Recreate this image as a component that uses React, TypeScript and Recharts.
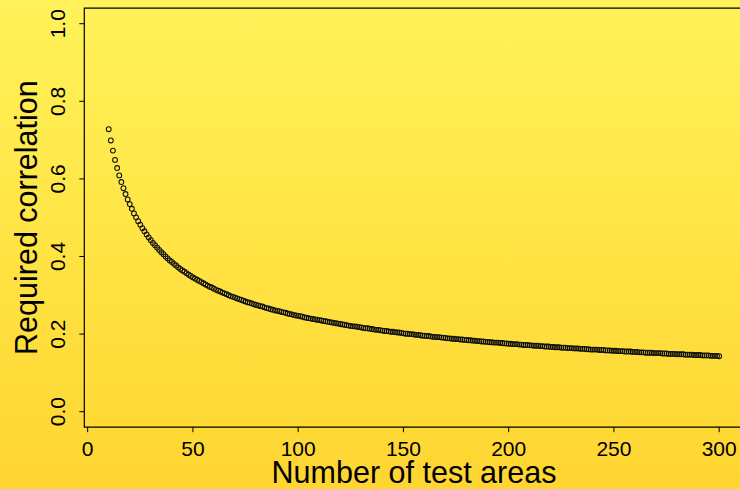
import { ScatterChart, Scatter, XAxis, YAxis, ReferenceArea } from 'recharts';

// sample sizes run from firstN upward in steps of one
const firstN = 10;

// required correlation, one value per sample size (10..300)
const requiredR = [
  0.728, 0.699, 0.673, 0.649, 0.628, 0.609, 0.592, 0.576, 0.561, 0.547, 0.535,
  0.523, 0.511, 0.501, 0.491, 0.482, 0.473, 0.465, 0.457, 0.449, 0.442,
  0.435, 0.429, 0.423, 0.417, 0.411, 0.406, 0.400, 0.395, 0.390, 0.386,
  0.381, 0.377, 0.372, 0.368, 0.364, 0.361, 0.357, 0.353, 0.350, 0.346,
  0.343, 0.340, 0.337, 0.334, 0.331, 0.328, 0.325, 0.322, 0.320, 0.317,
  0.314, 0.312, 0.310, 0.307, 0.305, 0.303, 0.300, 0.298, 0.296, 0.294,
  0.292, 0.290, 0.288, 0.286, 0.284, 0.282, 0.281, 0.279, 0.277, 0.275,
  0.274, 0.272, 0.271, 0.269, 0.267, 0.266, 0.264, 0.263, 0.261, 0.260,
  0.259, 0.257, 0.256, 0.255, 0.253, 0.252, 0.251, 0.249, 0.248, 0.247,
  0.246, 0.245, 0.243, 0.242, 0.241, 0.240, 0.239, 0.238, 0.237, 0.236,
  0.235, 0.234, 0.233, 0.232, 0.231, 0.230, 0.229, 0.228, 0.227, 0.226,
  0.225, 0.224, 0.223, 0.222, 0.221, 0.220, 0.220, 0.219, 0.218, 0.217,
  0.216, 0.215, 0.215, 0.214, 0.213, 0.212, 0.211, 0.211, 0.210, 0.209,
  0.208, 0.208, 0.207, 0.206, 0.206, 0.205, 0.204, 0.204, 0.203, 0.202,
  0.201, 0.201, 0.200, 0.200, 0.199, 0.198, 0.198, 0.197, 0.196, 0.196,
  0.195, 0.195, 0.194, 0.193, 0.193, 0.192, 0.192, 0.191, 0.191, 0.190,
  0.189, 0.189, 0.188, 0.188, 0.187, 0.187, 0.186, 0.186, 0.185, 0.185,
  0.184, 0.184, 0.183, 0.183, 0.182, 0.182, 0.181, 0.181, 0.180, 0.180,
  0.179, 0.179, 0.178, 0.178, 0.178, 0.177, 0.177, 0.176, 0.176, 0.175,
  0.175, 0.174, 0.174, 0.174, 0.173, 0.173, 0.172, 0.172, 0.172, 0.171,
  0.171, 0.170, 0.170, 0.170, 0.169, 0.169, 0.168, 0.168, 0.168, 0.167,
  0.167, 0.166, 0.166, 0.166, 0.165, 0.165, 0.165, 0.164, 0.164, 0.164,
  0.163, 0.163, 0.163, 0.162, 0.162, 0.162, 0.161, 0.161, 0.160, 0.160,
  0.160, 0.160, 0.159, 0.159, 0.159, 0.158, 0.158, 0.158, 0.157, 0.157,
  0.157, 0.156, 0.156, 0.156, 0.155, 0.155, 0.155, 0.155, 0.154, 0.154,
  0.154, 0.153, 0.153, 0.153, 0.152, 0.152, 0.152, 0.152, 0.151, 0.151,
  0.151, 0.151, 0.150, 0.150, 0.150, 0.149, 0.149, 0.149, 0.149, 0.148,
  0.148, 0.148, 0.148, 0.147, 0.147, 0.147, 0.147, 0.146, 0.146, 0.146,
  0.146, 0.145, 0.145, 0.145, 0.145, 0.144, 0.144, 0.144, 0.144, 0.143,
];

const xTicks = [0, 50, 100, 150, 200, 250, 300];
const yTicks = [0, 0.2, 0.4, 0.6, 0.8, 1.0];

// R pads the ranges by 4%
const xDomain = [-1.6, 311.6];
const yDomain = [-0.04, 1.04];

const data = requiredR.map((r, i) => ({ n: firstN + i, r }));

const font = '"Liberation Sans", Arial, Helvetica, sans-serif';

function OpenCircle(props: any) {
  const { cx, cy } = props;
  if (cx == null || cy == null) return null;
  return <circle cx={cx} cy={cy} r={2.4} fill="none" stroke="#111" strokeWidth={1.05} />;
}

function YTick(props: any) {
  const { x, y, payload } = props;
  const tx = x - 12;
  return (
    <text
      x={tx}
      y={y}
      transform={`rotate(-90, ${tx}, ${y})`}
      textAnchor="middle"
      fontSize={21}
      fontFamily={font}
      fill="#000"
    >
      {payload.value.toFixed(1)}
    </text>
  );
}

export default function App() {
  return (
    <div
      style={{
        position: 'fixed',
        left: 0,
        top: 0,
        width: 740,
        height: 489,
        overflow: 'hidden',
        background: 'linear-gradient(to bottom, #FFF25A 0%, #FFE444 50%, #FED531 100%)',
      }}
    >
      <ScatterChart
        width={760}
        height={489}
        margin={{ top: 8.2, right: 16.4, bottom: 0, left: 0 }}
      >
        <XAxis
          type="number"
          dataKey="n"
          domain={xDomain}
          ticks={xTicks}
          height={61.8}
          axisLine={false}
          tickLine={{ stroke: '#000' }}
          tickSize={5}
          tickMargin={9}
          tick={{ fontSize: 21, fill: '#000', fontFamily: font }}
          allowDataOverflow
        />
        <YAxis
          type="number"
          dataKey="r"
          domain={yDomain}
          ticks={yTicks}
          width={84.3}
          axisLine={false}
          tickLine={{ stroke: '#000' }}
          tickSize={5}
          tickMargin={2}
          tick={<YTick />}
          allowDataOverflow
        />
        <ReferenceArea
          x1={xDomain[0]}
          x2={xDomain[1]}
          y1={yDomain[0]}
          y2={yDomain[1]}
          fill="none"
          stroke="#000"
          strokeWidth={1.2}
          fillOpacity={0}
          ifOverflow="visible"
        />
        <Scatter data={data} shape={<OpenCircle />} isAnimationActive={false} />
      </ScatterChart>
      <svg
        width={740}
        height={489}
        style={{ position: 'absolute', left: 0, top: 0, pointerEvents: 'none' }}
      >
        <text x={414} y={482.7} textAnchor="middle" fontSize={30.5} fontFamily={font} fill="#000">
          Number of test areas
        </text>
        <text
          x={0}
          y={0}
          transform="translate(36.7, 217.6) rotate(-90)"
          textAnchor="middle"
          fontSize={30.5}
          fontFamily={font}
          fill="#000"
        >
          Required correlation
        </text>
      </svg>
    </div>
  );
}
